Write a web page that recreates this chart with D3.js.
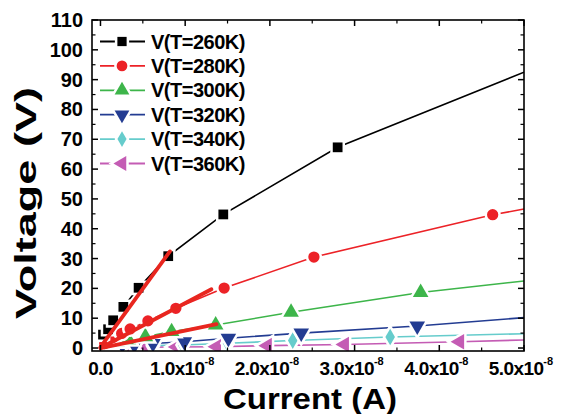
<!DOCTYPE html>
<html><head><meta charset="utf-8">
<script src="https://cdn.jsdelivr.net/npm/d3@7"></script>
<style>html,body{margin:0;padding:0;background:#fff;}svg{display:block;font-family:"Liberation Sans",Arial,sans-serif;font-weight:bold;}</style>
</head><body><svg id="c" width="566" height="414"></svg>
<script>
// ---- data (current in units of 1e-8 A, voltage in V) ----
const seriesNames = ["V(T=260K)","V(T=280K)","V(T=300K)","V(T=320K)","V(T=340K)","V(T=360K)"];
const seriesColors = ["#000000","#ec2227","#3db54a","#233c92","#66cccc","#c45cb4"];
const seriesSymbols = ["square","circle","triangleUp","triangleDown","diamond","triangleLeft"];
const I260 = [0.0,0.03,0.09,0.15,0.27,0.45,0.80,1.45,2.80,5.0];
const V260 = [0.5,4.5,6.3,9.3,13.8,20.2,30.8,44.8,67.3,92.5];
const I280 = [0.0,0.05,0.15,0.25,0.35,0.56,0.89,1.46,2.52,4.63,5.0];
const V280 = [0.2,1.5,3.6,4.9,6.4,9.1,13.3,20.1,30.5,44.7,46.6];
const I300 = [0.0,0.1,0.2,0.33,0.53,0.84,1.36,2.25,3.78,5.0];
const V300 = [0.1,1.2,2.0,2.8,3.8,5.5,7.7,12.0,18.6,22.5];
const I320 = [0.0,0.1,0.25,0.4,0.62,0.99,1.51,2.37,3.74,5.0];
const V320 = [0.0,0.4,0.7,1.0,1.5,2.1,3.3,5.0,7.4,10.2];
const I340 = [0.0,0.1,0.25,0.4,0.62,0.97,1.50,2.27,3.42,5.0];
const V340 = [0.0,0.2,0.4,0.6,0.8,1.0,1.6,2.5,3.7,4.8];
const I360 = [0.0,0.1,0.3,0.55,0.9,1.37,1.97,2.88,4.24,5.0];
const V360 = [0.0,0.1,0.2,0.3,0.35,0.45,0.8,1.2,2.1,2.7];
const seriesI = [I260,I280,I300,I320,I340,I360];
const seriesV = [V260,V280,V300,V320,V340,V360];
// linear fit lines (red, thick): start/end points
const fitI0 = [0.0,0.0,0.0];
const fitV0 = [0.3,0.0,0.0];
const fitI1 = [0.82,1.31,1.37];
const fitV1 = [32.4,19.7,8.0];
const fitColor = "#e8261f";
const xTicks = [0,1,2,3,4,5];
const xTickLabels = ["0.0","1.0x10","2.0x10","3.0x10","4.0x10","5.0x10"];
const yTicks = [0,10,20,30,40,50,60,70,80,90,100,110];

// ---- layout ----
const svg = d3.select("#c");
const L=92,R=524,T=20,B=351;
const x = d3.scaleLinear().domain([-0.1,5.0]).range([L,R]);
const y = d3.scaleLinear().domain([-1,110]).range([B,T]);

svg.append("defs").append("clipPath").attr("id","pc")
  .append("rect").attr("x",L).attr("y",T).attr("width",R-L).attr("height",B-T);

const symMap = {
  square:[d3.symbolSquare,0,95], circle:[d3.symbolCircle,0,100],
  triangleUp:[d3.symbolTriangle,0,105], triangleDown:[d3.symbolTriangle,180,105],
  diamond:[d3.symbolDiamond,0,80], triangleLeft:[d3.symbolTriangle,-90,105]
};
function drawSym(g,name,cx,cy,color,scale){
  const s=symMap[name];
  const p=d3.symbol().type(s[0]).size(s[2]*(scale||1))();
  g.append("path").attr("d",p).attr("transform",`translate(${cx},${cy}) rotate(${s[1]})`)
   .attr("fill","#fff").attr("stroke","#fff").attr("stroke-width",5);
  g.append("path").attr("d",p).attr("transform",`translate(${cx},${cy}) rotate(${s[1]})`)
   .attr("fill",color);
}

const plot = svg.append("g").attr("clip-path","url(#pc)");
const line = d3.line().x(d=>x(d[0])).y(d=>y(d[1]));
for(let k=seriesNames.length-1;k>=0;k--){
  const pts = seriesI[k].map((v,i)=>[v,seriesV[k][i]]);
  plot.append("path").attr("d",line(pts)).attr("fill","none")
    .attr("stroke",seriesColors[k]).attr("stroke-width",1.6);
}
for(let k=seriesNames.length-1;k>=0;k--){
  const g=plot.append("g");
  seriesI[k].forEach((v,i)=>{
    if(v>0 && v<5.0) drawSym(g,seriesSymbols[k],x(v),y(seriesV[k][i]),seriesColors[k]);
  });
}
fitI0.forEach((v,i)=>{
  plot.append("line").attr("x1",x(v)).attr("y1",y(fitV0[i]))
    .attr("x2",x(fitI1[i])).attr("y2",y(fitV1[i]))
    .attr("stroke",fitColor).attr("stroke-width",3.8).attr("stroke-linecap","round");
});

// ---- axes frame & ticks ----
const ax = svg.append("g").attr("stroke","#000").attr("fill","none");
ax.append("rect").attr("x",L).attr("y",T).attr("width",R-L).attr("height",B-T).attr("stroke-width",1.6);
const yMinor = d3.range(5,110,10);
yTicks.forEach(v=>{
  ax.append("line").attr("x1",L).attr("x2",L+6).attr("y1",y(v)).attr("y2",y(v)).attr("stroke-width",1.5);
  ax.append("line").attr("x1",R).attr("x2",R-6).attr("y1",y(v)).attr("y2",y(v)).attr("stroke-width",1.5);
});
yMinor.forEach(v=>{
  ax.append("line").attr("x1",L).attr("x2",L+3.5).attr("y1",y(v)).attr("y2",y(v)).attr("stroke-width",1.2);
  ax.append("line").attr("x1",R).attr("x2",R-3.5).attr("y1",y(v)).attr("y2",y(v)).attr("stroke-width",1.2);
});
const xMinor = [0.5,1.5,2.5,3.5,4.5];
xTicks.forEach(v=>{
  ax.append("line").attr("y1",B).attr("y2",B-6).attr("x1",x(v)).attr("x2",x(v)).attr("stroke-width",1.5);
  ax.append("line").attr("y1",T).attr("y2",T+6).attr("x1",x(v)).attr("x2",x(v)).attr("stroke-width",1.5);
});
xMinor.forEach(v=>{
  ax.append("line").attr("y1",B).attr("y2",B-3.5).attr("x1",x(v)).attr("x2",x(v)).attr("stroke-width",1.2);
  ax.append("line").attr("y1",T).attr("y2",T+3.5).attr("x1",x(v)).attr("x2",x(v)).attr("stroke-width",1.2);
});

// tick labels
yTicks.forEach(v=>{
  svg.append("text").attr("x",L-9).attr("y",y(v)+7).attr("text-anchor","end")
    .attr("font-size",20).text(v);
});
xTicks.forEach((v,i)=>{
  const t=svg.append("text").attr("x",x(v)-(i===0?0:3)).attr("y",375).attr("text-anchor","middle")
    .attr("font-size",19).attr("letter-spacing",-0.6);
  t.append("tspan").text(xTickLabels[i]);
  if(i>0) t.append("tspan").attr("font-size",11).attr("dy",-10).attr("letter-spacing",0).text("-8");
});

// axis titles
svg.append("text").attr("x",310).attr("y",409).attr("text-anchor","middle")
  .attr("font-size",30).attr("textLength",174).attr("lengthAdjust","spacingAndGlyphs").text("Current (A)");
svg.append("text").attr("transform","translate(36,203) rotate(-90)").attr("text-anchor","middle")
  .attr("font-size",29).attr("textLength",232).attr("lengthAdjust","spacingAndGlyphs").text("Voltage (V)");

// legend
const leg = svg.append("g");
seriesNames.forEach((n,k)=>{
  const cy = 41.5 + k*24.4;
  leg.append("line").attr("x1",100).attr("x2",145).attr("y1",cy).attr("y2",cy)
    .attr("stroke",seriesColors[k]).attr("stroke-width",1.8);
  drawSym(leg,seriesSymbols[k],122,cy,seriesColors[k],0.9);
  leg.append("text").attr("x",151).attr("y",cy+7).attr("font-size",20)
    .attr("letter-spacing",-0.5).text(n);
});
</script></body></html>
